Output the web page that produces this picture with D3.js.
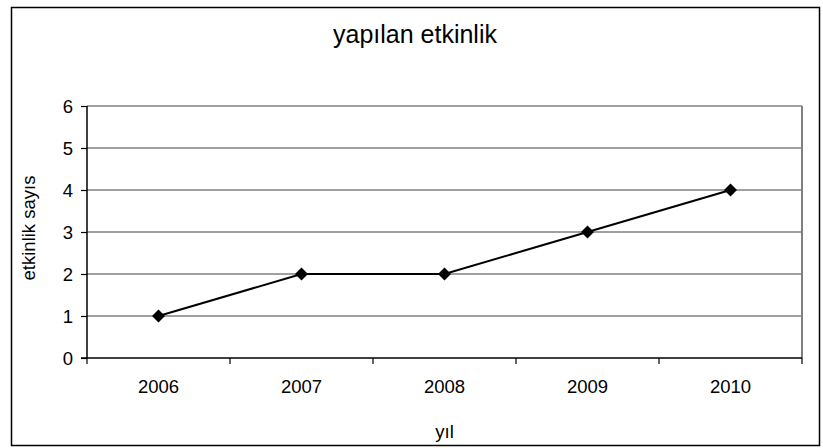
<!DOCTYPE html>
<html>
<head>
<meta charset="utf-8">
<script src="https://cdn.jsdelivr.net/npm/d3@7"></script>
<style>
  html, body { margin: 0; padding: 0; background: #fff; }
  svg { display: block; }
  text { font-family: "Liberation Sans", Arial, sans-serif; fill: #000; }
</style>
</head>
<body>
<svg id="chart" width="823" height="448"></svg>
<script>
const categories = ["2006", "2007", "2008", "2009", "2010"];
const values = [1, 2, 2, 3, 4];
const yTicks = [0, 1, 2, 3, 4, 5, 6];
const titleText = "yapılan etkinlik";
const xLabelText = "yıl";
const yLabelText = "etkinlik sayıs";

const svg = d3.select("#chart");
const plot = { left: 87, right: 802, top: 106, bottom: 358 };

// outer frame
svg.append("rect")
  .attr("x", 11.5).attr("y", 7.5)
  .attr("width", 808).attr("height", 438)
  .attr("fill", "#fff").attr("stroke", "#000").attr("stroke-width", 1.5);

const x = d3.scaleBand().domain(categories).range([plot.left, plot.right]).padding(0);
const y = d3.scaleLinear().domain([0, 6]).range([plot.bottom, plot.top]);

// gridlines
svg.append("g").selectAll("line")
  .data(yTicks.filter(d => d > 0))
  .join("line")
  .attr("x1", plot.left).attr("x2", plot.right)
  .attr("y1", d => y(d)).attr("y2", d => y(d))
  .attr("stroke", "#808080").attr("stroke-width", 1.6);

// plot area right border
svg.append("line")
  .attr("x1", plot.right).attr("x2", plot.right)
  .attr("y1", plot.top).attr("y2", plot.bottom)
  .attr("stroke", "#808080").attr("stroke-width", 2);

// y axis
const yAxis = svg.append("g")
  .attr("transform", `translate(${plot.left},0)`)
  .call(d3.axisLeft(y).tickValues(yTicks).tickFormat(d3.format("d")).tickSize(6).tickPadding(8));
yAxis.attr("font-size", null).attr("font-family", null);
yAxis.select(".domain").attr("stroke", "#000").attr("stroke-width", 1.5).attr("d", `M0,${plot.top}V${plot.bottom}`);
yAxis.selectAll(".tick line").attr("stroke", "#000").attr("stroke-width", 1.2);
yAxis.selectAll(".tick text").attr("font-size", 18.5).attr("dy", "0.35em");

// x axis with ticks at category boundaries
const xAxisG = svg.append("g").attr("transform", `translate(0,${plot.bottom})`);
xAxisG.append("line")
  .attr("x1", plot.left - 6).attr("x2", plot.right)
  .attr("y1", 0).attr("y2", 0)
  .attr("stroke", "#000").attr("stroke-width", 1.5);
const boundaries = categories.map(c => x(c)).concat([x(categories[categories.length - 1]) + x.bandwidth()]);
xAxisG.selectAll("line.tk").data(boundaries).join("line")
  .attr("class", "tk")
  .attr("x1", d => d).attr("x2", d => d)
  .attr("y1", 0).attr("y2", 6)
  .attr("stroke", "#000").attr("stroke-width", 1.2);
xAxisG.selectAll("text").data(categories).join("text")
  .attr("x", d => x(d) + x.bandwidth() / 2)
  .attr("y", 35)
  .attr("text-anchor", "middle")
  .attr("font-size", 18.5)
  .text(d => d);

// line
const line = d3.line()
  .x((d, i) => x(categories[i]) + x.bandwidth() / 2)
  .y(d => y(d));
svg.append("path")
  .datum(values)
  .attr("d", line)
  .attr("fill", "none").attr("stroke", "#000").attr("stroke-width", 2);

// diamond markers
const r = 6.5;
svg.append("g").selectAll("path")
  .data(values)
  .join("path")
  .attr("transform", (d, i) => `translate(${x(categories[i]) + x.bandwidth() / 2},${y(d)})`)
  .attr("d", `M0,${-r}L${r},0L0,${r}L${-r},0Z`)
  .attr("fill", "#000");

// title
svg.append("text")
  .attr("x", 415).attr("y", 43)
  .attr("text-anchor", "middle")
  .attr("font-size", 25)
  .text(titleText);

// x label
svg.append("text")
  .attr("x", (plot.left + plot.right) / 2).attr("y", 438)
  .attr("text-anchor", "middle")
  .attr("font-size", 18.5)
  .text(xLabelText);

// y label
svg.append("text")
  .attr("transform", `translate(35,${(plot.top + plot.bottom) / 2 - 4}) rotate(-90)`)
  .attr("text-anchor", "middle")
  .attr("font-size", 18.5)
  .text(yLabelText);
</script>
</body>
</html>
